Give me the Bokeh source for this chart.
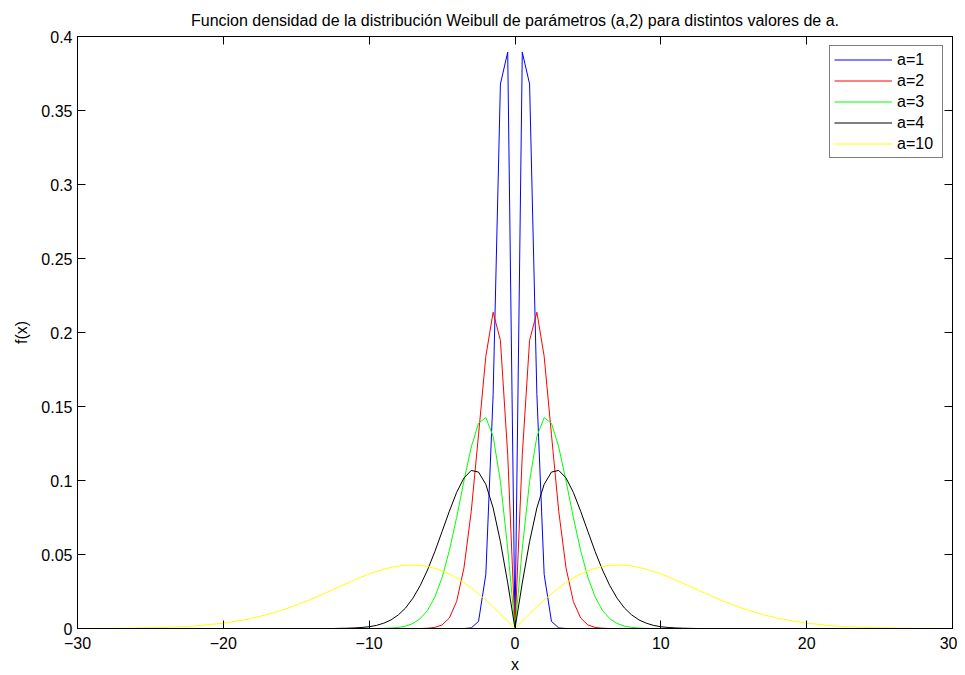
import numpy as np
from bokeh.plotting import figure
from bokeh.models import (Range1d, LinearAxis, FixedTicker, Legend, LegendItem)
from bokeh.embed import file_html
from bokeh.resources import INLINE

title_text = "Funcion densidad de la distribución Weibull de parámetros (a,2) para distintos valores de a."
x_label = "x"
y_label = "f(x)"

# sample grid on the positive half-axis (the density is symmetric in x)
x_half = np.linspace(0, 30, 61)

y_a1 = [0, 0.3894, 0.3679, 0.1581, 0.0366, 0.0048, 0.0004]
y_a2 = [0, 0.1174, 0.1947, 0.2137, 0.1839, 0.1310, 0.0791, 0.0409, 0.0183,
        0.0071, 0.0024, 0.0007, 0.0002]
y_a3 = [0, 0.0540, 0.0994, 0.1298, 0.1425, 0.1387, 0.1226, 0.0997, 0.0751,
        0.0527, 0.0345, 0.0212, 0.0122, 0.0066, 0.0034, 0.0016, 0.0007,
        0.0003, 0.0001]
y_a4 = [0, 0.0308, 0.0587, 0.0815, 0.0974, 0.1057, 0.1068, 0.1017, 0.0920,
        0.0793, 0.0655, 0.0519, 0.0395, 0.0290, 0.0205, 0.0139, 0.0092,
        0.0058, 0.0036, 0.0021, 0.0012, 0.0007, 0.0004, 0.0002, 0.0001]
y_a10 = [0, 0.0050, 0.0099, 0.0147, 0.0192, 0.0235, 0.0274, 0.0310, 0.0341,
         0.0368, 0.0389, 0.0406, 0.0419, 0.0426, 0.0429, 0.0427, 0.0422,
         0.0413, 0.0400, 0.0385, 0.0368, 0.0349, 0.0328, 0.0306, 0.0284,
         0.0262, 0.0240, 0.0218, 0.0197, 0.0177, 0.0158, 0.0140, 0.0124,
         0.0108, 0.0094, 0.0082, 0.0070, 0.0060, 0.0051, 0.0044, 0.0037,
         0.0031, 0.0026, 0.0021, 0.0017, 0.0014, 0.0012, 0.0009, 0.0008,
         0.0006, 0.0005, 0.0004, 0.0003, 0.0002, 0.0002, 0.0001, 0.0001,
         0.0001, 0.0001, 0.0000, 0.0000]

series_labels = ["a=1", "a=2", "a=3", "a=4", "a=10"]
series_values = [y_a1, y_a2, y_a3, y_a4, y_a10]
series_colors = ["#0000ff", "#ff0000", "#00ff00", "#000000", "#ffff00"]

x_ticks = [-30, -20, -10, 0, 10, 20, 30]
x_tick_labels = ["\u221230", "\u221220", "\u221210", "0", "10", "20", "30"]
y_ticks = [0, 0.05, 0.1, 0.15, 0.2, 0.25, 0.3, 0.35, 0.4]
y_tick_labels = ["0", "0.05", "0.1", "0.15", "0.2", "0.25", "0.3", "0.35", "0.4"]

FONT = "Liberation Sans"
FS = "16px"

p = figure(frame_width=875, frame_height=592, output_backend="svg",
           toolbar_location=None,
           x_range=Range1d(-30, 30), y_range=Range1d(0, 0.4),
           min_border_left=77, min_border_right=5, min_border_top=36,
           min_border_bottom=30, x_axis_location=None, y_axis_location=None)
p.title.text = title_text
p.title.align = "center"
p.title.offset = -34
p.title.text_font = FONT
p.title.text_font_size = FS
p.title.text_font_style = "normal"
p.title.text_color = "#000000"
p.title.standoff = 15
p.xgrid.visible = False
p.ygrid.visible = False
p.outline_line_color = "#000000"
p.outline_line_width = 1
p.background_fill_color = "white"
p.border_fill_color = "white"


def style_axis(ax, ticks, labels, show):
    ax.ticker = FixedTicker(ticks=ticks)
    ax.major_label_overrides = {t: l for t, l in zip(ticks, labels)}
    ax.major_tick_in = 8
    ax.major_tick_out = 0
    ax.minor_tick_in = 0
    ax.minor_tick_out = 0
    ax.axis_line_color = "#000000"
    ax.major_tick_line_color = "#000000"
    ax.major_label_text_font = FONT
    ax.major_label_text_font_size = FS
    ax.major_label_text_color = "#000000" if show else None
    ax.axis_label_text_font = FONT
    ax.axis_label_text_font_size = FS
    ax.axis_label_text_font_style = "normal"
    ax.axis_label_text_color = "#000000"


xb = LinearAxis(axis_label=x_label)
style_axis(xb, x_ticks, x_tick_labels, True)
xb.major_label_standoff = 8
xb.axis_label_standoff = 4
p.add_layout(xb, "below")

yl = LinearAxis(axis_label=y_label)
style_axis(yl, y_ticks, y_tick_labels, True)
yl.major_label_standoff = 5
yl.axis_label_standoff = 8
p.add_layout(yl, "left")

xt = LinearAxis()
style_axis(xt, x_ticks, x_tick_labels, False)
xt.major_label_text_font_size = "0px"
xt.major_label_standoff = 0
p.add_layout(xt, "above")

yr = LinearAxis()
style_axis(yr, y_ticks, y_tick_labels, False)
yr.major_label_text_font_size = "0px"
yr.major_label_standoff = 0
p.add_layout(yr, "right")

items = []
for lab, vals, col in zip(series_labels, series_values, series_colors):
    half = np.zeros(len(x_half))
    half[:len(vals)] = vals
    xs = np.concatenate([-x_half[::-1], x_half[1:]])
    ys = np.concatenate([half[::-1], half[1:]])
    r = p.line(xs, ys, line_color=col, line_width=1)
    items.append(LegendItem(label=lab, renderers=[r]))

legend = Legend(items=items, location="top_right")
legend.label_text_font = FONT
legend.label_text_font_size = FS
legend.label_text_color = "#000000"
legend.glyph_width = 58
legend.glyph_height = 19
legend.label_height = 19
legend.label_width = 41
legend.spacing = 2
legend.padding = 4
legend.margin = 9
legend.label_standoff = 5
legend.border_line_color = "#000000"
legend.border_line_width = 1
legend.background_fill_color = "white"
legend.background_fill_alpha = 1.0
p.add_layout(legend, "center")

open("out.html", "w").write(file_html(p, INLINE))
